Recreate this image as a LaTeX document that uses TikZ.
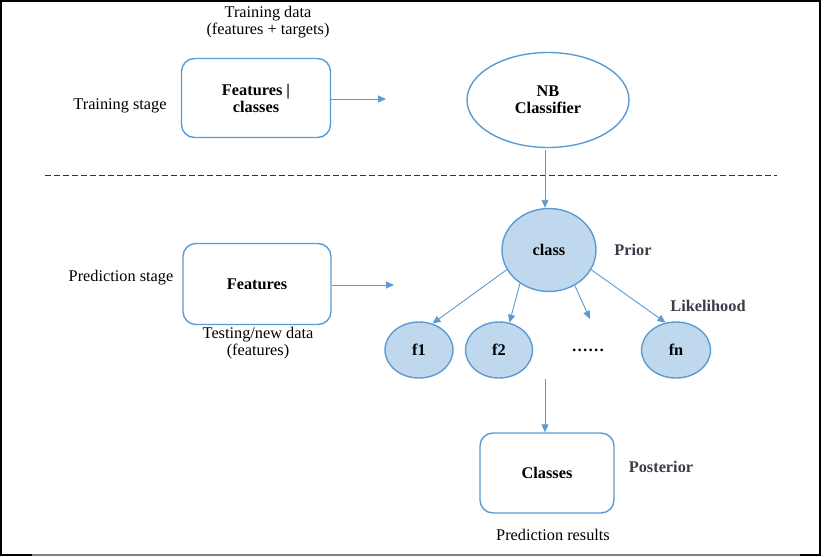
\documentclass[tikz,border=0pt]{standalone}
\usepackage{fontspec}
\setmainfont{Liberation Serif}
\usetikzlibrary{shapes.geometric,arrows.meta}
\definecolor{bord}{RGB}{91,155,213}
\definecolor{lfill}{RGB}{192,216,238}
\definecolor{lab}{RGB}{60,60,72}
\tikzset{
  every node/.style={font=\fontsize{16.3}{17}\selectfont, align=center, inner sep=0pt},
  rbox/.style={draw=bord, line width=1.4pt, rounded corners=13pt, fill=white},
  oval/.style={draw=bord, line width=1.4pt, ellipse},
  fnode/.style={draw=bord, line width=1.4pt, ellipse, fill=lfill, minimum width=68pt, minimum height=56pt},
  conn/.style={draw=bord, line width=0.9pt, -{Triangle[length=8pt,width=7pt]}},
  side/.style={font=\fontsize{16.3}{17}\selectfont\bfseries, text=lab}
}
\begin{document}
\begin{tikzpicture}[x=1pt,y=-1pt]
\useasboundingbox (0,0) rectangle (825,557);
% frame
\draw[black, line width=1.2pt] (1,1) rectangle (820,555);
\draw[gray, line width=2pt] (32,555) -- (800,555);
% training stage
\node (tdata) at (268,22) {Training data\\(features + targets)};
\node (tstage) at (120,106) {Training stage};
\node[rbox, minimum width=149pt, minimum height=79pt, font=\fontsize{16.3}{17}\selectfont\bfseries] (fc) at (256,98) {Features |\\classes};
\coordinate (fcend) at (386,99);
\draw[conn] (fc.east |- fcend) -- (fcend);
\node[oval, minimum width=162pt, minimum height=95pt, font=\fontsize{16.3}{17}\selectfont\bfseries] (nb) at (548,100) {NB\\Classifier};
% separator
\draw[black!80, line width=1pt, dash pattern=on 6pt off 3pt] (45,175) -- (777,175);
% prediction stage
\node (pstage) at (121,278) {Prediction stage};
\node[rbox, minimum width=148pt, minimum height=81pt, font=\fontsize{16.3}{17}\selectfont\bfseries] (feat) at (257,284) {Features};
\node (tnew) at (258,343) {Testing/new data\\(features)};
\coordinate (featend) at (394,285);
\draw[conn] (feat.east |- featend) -- (featend);
\node[fnode, minimum width=94pt, minimum height=83pt, font=\fontsize{16.3}{17}\selectfont\bfseries] (class) at (549,250) {class};
\node[side] (prior) at (633,250) {Prior};
\draw[conn] (nb.south -| 545,0) ++(0,2) -- (class.north -| 545,0);
\node[fnode, font=\fontsize{16.3}{17}\selectfont\bfseries] (f1) at (419,350) {f1};
\node[fnode, minimum width=67pt, font=\fontsize{16.3}{17}\selectfont\bfseries] (f2) at (499,350) {f2};
\node[font=\fontsize{16.3}{17}\selectfont\bfseries] (dots) at (588,350) {……};
\node[fnode, minimum width=69pt, font=\fontsize{16.3}{17}\selectfont\bfseries] (fn) at (676,350) {fn};
\node[side] (lik) at (708,306) {Likelihood};
\coordinate (dotsend) at (590,319);
\draw[conn] (class.205) -- (f1.63);
\draw[conn] (class.229) -- (f2.69);
\draw[conn] (class.306) -- (dotsend);
\draw[conn] (class.335) -- (fn.111);
% posterior
\node[rbox, minimum width=134pt, minimum height=80pt, font=\fontsize{16.3}{17}\selectfont\bfseries] (cls) at (547,473) {Classes};
\node[side] (post) at (661,467) {Posterior};
\coordinate (fstart) at (545,379);
\draw[conn] (fstart) -- (cls.north -| fstart);
\node (pres) at (553,535) {Prediction results};
\end{tikzpicture}
\end{document}
